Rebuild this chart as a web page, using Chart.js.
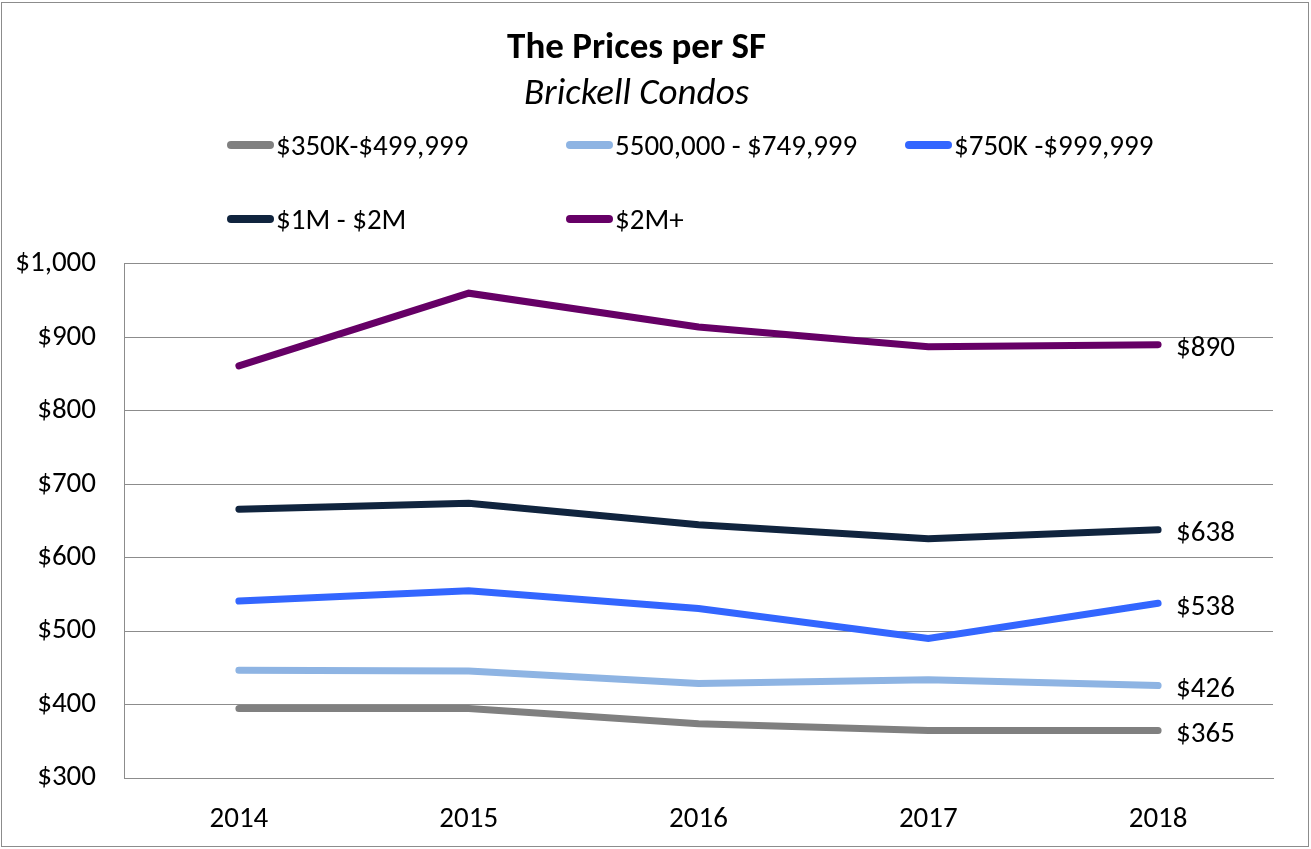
<!DOCTYPE html>
<html>
<head>
<meta charset="utf-8">
<script src="https://cdn.jsdelivr.net/npm/chart.js@4.4.1/dist/chart.umd.min.js"></script>
<style>
  html, body { margin: 0; padding: 0; background: #fff; }
  #wrap { position: relative; width: 1311px; height: 849px; overflow: hidden; }
  #frame { position: absolute; left: 1px; top: 2px; width: 1306px; height: 843px; border: 1px solid #8c8c8c; pointer-events: none; }
  canvas { position: absolute; left: 0; top: 0; }
  .leg { position: absolute; font-family: Carlito, Lato, sans-serif; font-size: 29px; color: #000; line-height: 1; white-space: nowrap; }
  .leg i { position: absolute; width: 47px; height: 8px; border-radius: 4px; left: 0; top: 50%; margin-top: -4px; }
  .leg span { position: absolute; left: 49px; top: 50%; transform: translateY(-50%); }
</style>
</head>
<body>
<div id="wrap">
  <canvas id="chart" width="1311" height="861"></canvas>
  <div id="legend"></div>
  <div id="frame"></div>
</div>
<script>
// datos del grafico
var years = ['2014', '2015', '2016', '2017', '2018'];
var seriesNames = ['$350K-$499,999', '5500,000 - $749,999', '$750K -$999,999', '$1M - $2M', '$2M+'];
var seriesColors = ['#808080', '#8eb4e3', '#3366ff', '#10243e', '#660066'];
var price350 = [395, 395, 374, 365, 365];
var price500 = [447, 446, 429, 434, 426];
var price750 = [541, 555, 531, 490, 538];
var price1M = [666, 674, 645, 626, 638];
var price2M = [861, 960, 914, 887, 890];
var yTicks = [300, 400, 500, 600, 700, 800, 900, 1000];

var allSeries = [price350, price500, price750, price1M, price2M];
var FONT = 'Carlito, Lato, sans-serif';

function money(v) {
    return '$' + v.toLocaleString('en-US');
}

// leyenda manual (dos filas alineadas en columnas)
var legendPos = [[227, 145], [566, 145], [905, 145], [227, 219], [566, 219]];
var legendBox = document.getElementById('legend');
seriesNames.forEach(function (name, i) {
    var d = document.createElement('div');
    d.className = 'leg';
    d.style.left = legendPos[i][0] + 'px';
    d.style.top = (legendPos[i][1] - 15) + 'px';
    d.style.height = '30px';
    d.innerHTML = '<i style="background:' + seriesColors[i] + '"></i><span></span>';
    d.querySelector('span').textContent = name;
    legendBox.appendChild(d);
});

// etiquetas del ultimo punto
var lastLabels = {
    id: 'lastLabels',
    afterDatasetsDraw: function (chart) {
        var ctx = chart.ctx;
        ctx.save();
        ctx.font = '29px ' + FONT;
        ctx.fillStyle = '#000';
        ctx.textAlign = 'left';
        ctx.textBaseline = 'middle';
        chart.data.datasets.forEach(function (ds, i) {
            var meta = chart.getDatasetMeta(i);
            var pt = meta.data[meta.data.length - 1];
            ctx.fillText(money(ds.data[ds.data.length - 1]), pt.x + 18, pt.y + 4);
        });
        ctx.restore();
    }
};

var ctx = document.getElementById('chart').getContext('2d');
var chart = new Chart(ctx, {
    type: 'line',
    data: {
        labels: years,
        datasets: allSeries.map(function (vals, i) {
            return {
                label: seriesNames[i],
                data: vals,
                borderColor: seriesColors[i],
                backgroundColor: seriesColors[i],
                borderWidth: 7,
                borderCapStyle: 'round',
                borderJoinStyle: 'miter',
                pointRadius: 0,
                tension: 0
            };
        })
    },
    options: {
        responsive: false,
        animation: false,
        layout: { padding: { top: 0, left: 0, right: 38, bottom: 0 } },
        plugins: {
            legend: { display: false },
            tooltip: { enabled: false },
            title: {
                display: true,
                text: 'The Prices per SF',
                color: '#000',
                font: { family: FONT, size: 37, weight: 'bold' },
                padding: { top: 27, bottom: 1 }
            },
            subtitle: {
                display: true,
                text: 'Brickell Condos',
                color: '#000',
                font: { family: FONT, size: 37, style: 'italic' },
                padding: { top: 0, bottom: 147 }
            }
        },
        scales: {
            x: {
                offset: true,
                grid: { display: false, drawTicks: false },
                border: { color: '#8c8c8c', width: 1 },
                ticks: { color: '#000', font: { family: FONT, size: 29 }, padding: 24 }
            },
            y: {
                min: 300,
                max: 1000,
                afterBuildTicks: function (scale) {
                    scale.ticks = yTicks.map(function (v) { return { value: v }; });
                },
                afterFit: function (scale) { scale.width = 124; },
                grid: { color: '#8c8c8c', lineWidth: 1, drawTicks: false },
                border: { color: '#8c8c8c', width: 1 },
                ticks: {
                    color: '#000',
                    font: { family: FONT, size: 29 },
                    padding: 28,
                    callback: function (v) { return money(v); }
                }
            }
        }
    },
    plugins: [lastLabels]
});
</script>
</body>
</html>
